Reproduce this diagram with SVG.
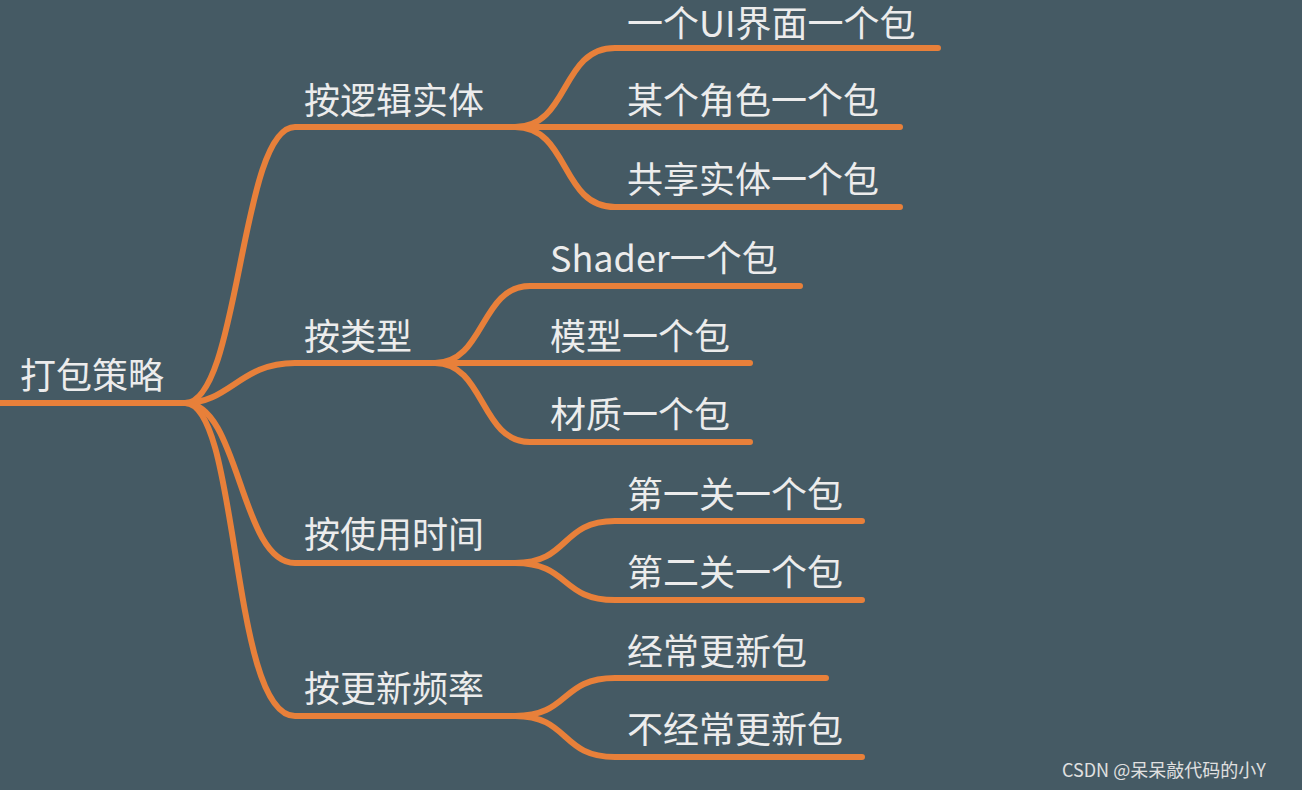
<svg xmlns="http://www.w3.org/2000/svg" width="1302" height="790" viewBox="0 0 1302 790">
<style>
.l{fill:none;stroke:#e8803a;stroke-width:6;stroke-linecap:round}
text{font-family:"Noto Sans CJK SC","Noto Sans",sans-serif;font-size:36px;fill:#ececec}
.w{font-size:18px;fill:#e0e0e0}
</style>
<rect width="1302" height="790" fill="#455a64"/>
<g id="connectors">
<path class="l" d="M0 403H185"/>
<path class="l" d="M185 403C240 403 240 127 295 127H515"/>
<path class="l" d="M185 403C230 403 240 363 295 363H435"/>
<path class="l" d="M185 403C240 403 240 563 295 563H515"/>
<path class="l" d="M185 403C240 403 230 716 295 716H515"/>
<path class="l" d="M515 127C570 127 560 48 615 48H938"/>
<path class="l" d="M515 127H900"/>
<path class="l" d="M515 127C570 127 560 207 615 207H900"/>
<path class="l" d="M435 363C485 363 480 286 530 286H800"/>
<path class="l" d="M435 363H750"/>
<path class="l" d="M435 363C485 363 480 442 530 442H750"/>
<path class="l" d="M515 563C570 563 560 521 615 521H862"/>
<path class="l" d="M515 563C570 563 560 600 615 600H862"/>
<path class="l" d="M515 716C570 716 560 678 615 678H826"/>
<path class="l" d="M515 716C570 716 560 757 615 757H862"/>
</g>
<g id="root"><text x="20" y="389">打包策略</text></g>
<g id="n1"><text x="304" y="114">按逻辑实体</text></g>
<g id="n2"><text x="304" y="350">按类型</text></g>
<g id="n3"><text x="304" y="548">按使用时间</text></g>
<g id="n4"><text x="304" y="702">按更新频率</text></g>
<g id="n11"><text x="627" y="37">一个UI界面一个包</text></g>
<g id="n12"><text x="627" y="114">某个角色一个包</text></g>
<g id="n13"><text x="627" y="193">共享实体一个包</text></g>
<g id="n21"><text x="550" y="272">Shader一个包</text></g>
<g id="n22"><text x="550" y="350">模型一个包</text></g>
<g id="n23"><text x="550" y="428">材质一个包</text></g>
<g id="n31"><text x="627" y="508">第一关一个包</text></g>
<g id="n32"><text x="627" y="586">第二关一个包</text></g>
<g id="n41"><text x="627" y="665">经常更新包</text></g>
<g id="n42"><text x="627" y="743">不经常更新包</text></g>
<text class="w" x="1062" y="777">CSDN @呆呆敲代码的小Y</text>
</svg>
